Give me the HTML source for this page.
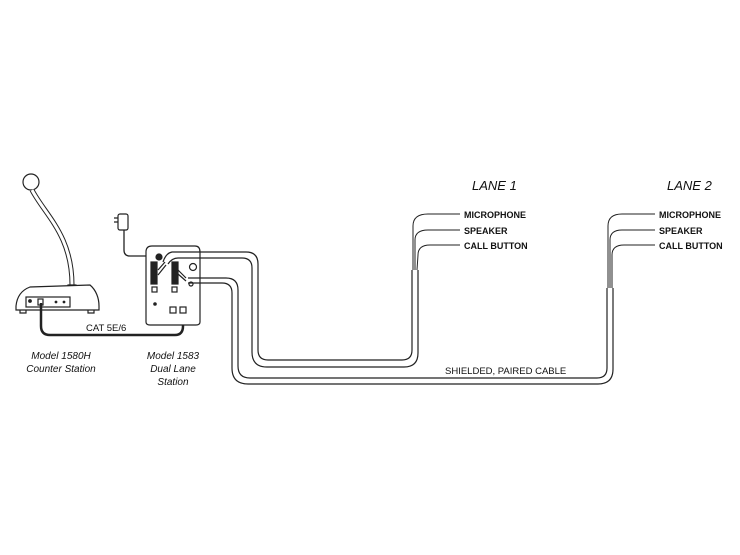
<!DOCTYPE html>
<html><head><style>
html,body{margin:0;padding:0;background:#fff;}
svg{display:block;}
text{font-family:"Liberation Sans",Arial,sans-serif;fill:#111;}
</style></head><body>
<svg width="740" height="555" viewBox="0 0 740 555" xmlns="http://www.w3.org/2000/svg">
<g fill="none" stroke="#222" stroke-width="1.2">
<!-- Counter station -->
<circle cx="31" cy="182" r="8" fill="#fff"/>
<path d="M32 190 C45 215 72 235 72 285" stroke-width="5" stroke="#222"/>
<path d="M32 190 C45 215 72 235 72 285" stroke-width="3" stroke="#fff"/>
<path d="M67 296 L68 285 L76 285 L80 296 Z" fill="#fff"/>
<path d="M16 306 C17 296 22 290 30 287 L90 285 C96 290 99 298 99 306 L99 310 L16 310 Z" fill="#fff"/>
<rect x="26" y="297" width="44" height="10" fill="#fff"/>
<rect x="38" y="299" width="5" height="6"/>
<circle cx="30" cy="301" r="1.3" fill="#222"/>
<circle cx="56" cy="302" r="0.8" fill="#222"/>
<circle cx="64" cy="302" r="0.8" fill="#222"/>
<path d="M20 310 L20 313 L26 313 L26 310 M88 310 L88 313 L94 313 L94 310"/>
<!-- CAT cable -->
<path d="M41 303 L41 326 Q41 335 50 335 L175 335 Q183 335 183 326 L183 314" stroke-width="2.5"/>
<!-- power adapter -->
<path d="M114 218 L118 218 M114 222 L118 222" />
<rect x="118" y="214" width="10" height="16" rx="2" fill="#fff"/>
<path d="M124 230 L124 250 Q124 256 130 256 L158 256" stroke-width="1.3"/>
<!-- dual lane station -->
<path d="M146 252 Q146 246 152 246 L195 246 Q200 246 200 252 L200 322 Q200 325 196 325 L150 325 Q146 325 146 322 Z" fill="#fff"/>
<rect x="151" y="262" width="6" height="22" fill="#222"/>
<rect x="172" y="262" width="6" height="22" fill="#222"/>
<rect x="152" y="287" width="5" height="5"/>
<rect x="172" y="287" width="5" height="5"/>
<rect x="170" y="307" width="6" height="6"/>
<rect x="180" y="307" width="6" height="6"/>
<circle cx="159" cy="257" r="3" fill="#222"/>
<circle cx="155" cy="304" r="1.2" fill="#222"/>
<circle cx="193" cy="267" r="3.5"/>
<circle cx="191" cy="284" r="2"/>
<path d="M158 270 L165 262 M158 275 L166 265 M178 270 L186 278 M178 274 L186 281"/>
<!-- cable 1 (upper) -->
<path d="M163 262 Q166 253 172 252 L246 252 Q258 252 258 264 L258 350 Q258 360 268 360 L402 360 Q412 360 412 350 L412 270"/>
<path d="M168 264 Q172 258 178 258 L242 258 Q252 258 252 268 L252 352 Q252 367 267 367 L404 367 Q418 367 418 353 L418 270"/>
<!-- cable 2 (lower) -->
<path d="M188 278 L226 278 Q238 278 238 290 L238 366 Q238 378 250 378 L597 378 Q607 378 607 368 L607 288"/>
<path d="M188 283 L222 283 Q232 283 232 293 L232 368 Q232 384 248 384 L598 384 Q613 384 613 369 L613 288"/>
<!-- lane 1 wires -->
<path d="M413 270 L413 226 Q413 214 428 214 L460 214" stroke-width="1"/>
<path d="M415 270 L415 240 Q415 230 428 230 L460 230" stroke-width="1"/>
<path d="M417 270 L418 255 Q418 245 430 245 L460 245" stroke-width="1"/>
<!-- lane 2 wires -->
<path d="M608 288 L608 226 Q608 214 622 214 L655 214" stroke-width="1"/>
<path d="M610 288 L610 240 Q610 230 622 230 L655 230" stroke-width="1"/>
<path d="M612 288 L612 255 Q612 245 624 245 L655 245" stroke-width="1"/>
</g>
<g font-size="9" font-weight="bold">
<text x="464" y="218">MICROPHONE</text>
<text x="464" y="234">SPEAKER</text>
<text x="464" y="249">CALL BUTTON</text>
<text x="659" y="218">MICROPHONE</text>
<text x="659" y="234">SPEAKER</text>
<text x="659" y="249">CALL BUTTON</text>
</g>
<g font-size="13" font-style="italic">
<text x="472" y="190">LANE 1</text>
<text x="667" y="190">LANE 2</text>
</g>
<text x="445" y="374" font-size="9.5">SHIELDED, PAIRED CABLE</text>
<text x="86" y="331" font-size="9.5">CAT 5E/6</text>
<g font-size="10" font-style="italic" text-anchor="middle" fill="#333">
<text x="61" y="359">Model 1580H</text>
<text x="61" y="372">Counter Station</text>
<text x="173" y="359">Model 1583</text>
<text x="173" y="372">Dual Lane</text>
<text x="173" y="385">Station</text>
</g>
</svg>
</body></html>
